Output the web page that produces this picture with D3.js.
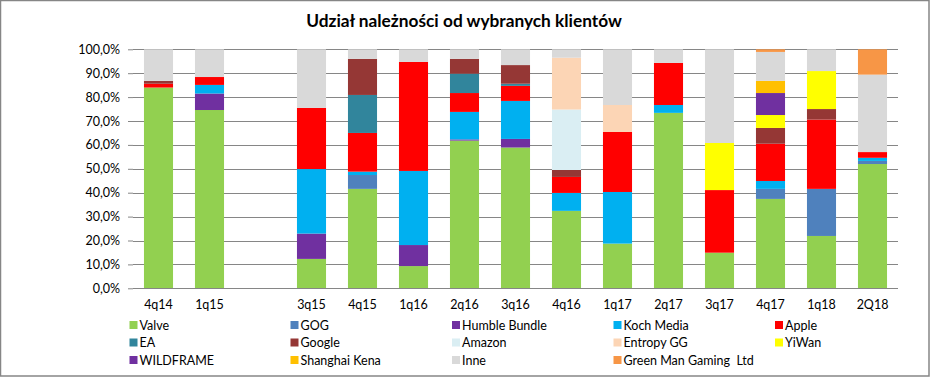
<!DOCTYPE html>
<html><head><meta charset="utf-8">
<script src="https://cdn.jsdelivr.net/npm/d3@7"></script>
<style>
html,body{margin:0;padding:0;background:#fff;}
svg{display:block;font-family:Lato,"Open Sans",sans-serif;}
text{white-space:pre;}
</style></head>
<body>
<svg id="c" width="930" height="377"></svg>
<script>
const categories = ["4q14","1q15","","3q15","4q15","1q16","2q16","3q16","4q16","1q17","2q17","3q17","4q17","1q18","2Q18"];
const seriesNames = ["Valve","GOG","Humble Bundle","Koch Media","Apple","EA","Google","Amazon","Entropy GG","YiWan","WILDFRAME","Shanghai Kena","Inne","Green Man Gaming  Ltd"];
const seriesColors = ["#92D050","#4F81BD","#7030A0","#00B0F0","#FF0000","#31859C","#953735","#DAEEF3","#FCD5B5","#FFFF00","#7030A0","#FFC000","#D9D9D9","#F79646"];
// values in % per category (same order as categories)
const valve      = [84.0,74.6,0,12.3,41.6, 9.3,61.8,58.9,32.4,18.7,73.4,14.9,37.4,21.9,52.0];
const gog        = [ 0,   0,  0, 0,   5.8, 0,   0,   0,   0,   0,   0,   0,   4.2,19.7, 1.3];
const humble     = [ 0,   6.9,0,10.6, 0,   8.8, 0.5, 3.6, 0,   0,   0,   0,   0,   0,   0  ];
const koch       = [ 0,   3.6,0,27.0, 1.4,31.0,11.5,15.9, 7.5,21.6, 3.3, 0,   3.3, 0,   1.3];
const apple      = [ 1.6, 3.3,0,25.6,16.2,45.6, 7.9, 6.3, 6.7,25.1,17.6,26.2,15.6,29.0, 2.4];
const ea         = [ 0,   0,  0, 0,  15.9, 0,   8.1, 0.9, 0,   0,   0,   0,   0,   0,   0  ];
const google     = [ 1.2, 0,  0, 0,  15.1, 0,   6.2, 7.8, 2.9, 0,   0,   0,   6.6, 4.4, 0  ];
const amazon     = [ 0,   0,  0, 0,   0,   0,   0,   0,  25.3, 0,   0,   0,   0,   0,   0  ];
const entropy    = [ 0,   0,  0, 0,   0,   0,   0,   0,  21.7,11.3, 0,   0,   0,   0,   0  ];
const yiwan      = [ 0,   0,  0, 0,   0,   0,   0,   0,   0,   0,   0,  19.7, 5.4,15.9, 0  ];
const wildframe  = [ 0,   0,  0, 0,   0,   0,   0,   0,   0,   0,   0,   0,   9.2, 0,   0  ];
const shanghai   = [ 0,   0,  0, 0,   0,   0,   0,   0,   0,   0,   0,   0,   5.1, 0,   0  ];
const inne       = [13.2,11.6,0,24.5, 4.0, 5.3, 4.0, 6.6, 3.5,23.3, 5.7,39.2,12.1, 9.1,32.4];
const greenman   = [ 0,   0,  0, 0,   0,   0,   0,   0,   0,   0,   0,   0,   1.1, 0,  10.6];
const seriesValues = [valve,gog,humble,koch,apple,ea,google,amazon,entropy,yiwan,wildframe,shanghai,inne,greenman];
const yTicks = [0,10,20,30,40,50,60,70,80,90,100];

const rows = categories.map((c,i)=>{const r={cat:c,idx:i};seriesNames.forEach((s,j)=>r[s]=seriesValues[j][i]);return r;});
const stack = d3.stack().keys(seriesNames)(rows);

const svg = d3.select("#c");
const m = {left:133, right:898, top:49.3, bottom:288.3};
const x = d3.scaleBand().domain(d3.range(categories.length)).range([m.left,m.right]).paddingInner(0.43).paddingOuter(0.215);
const y = d3.scaleLinear().domain([0,100]).range([m.bottom,m.top]);

// outer border
svg.append("rect").attr("x",0.5).attr("y",0.5).attr("width",928.5).attr("height",375.5).attr("fill","none").attr("stroke","#868686").attr("stroke-width",1.5);

// title
svg.append("text").attr("x",464).attr("y",27).attr("text-anchor","middle").attr("font-size",17.3).attr("font-weight","bold").attr("fill","#000").text("Udział należności od wybranych klientów");

// gridlines
svg.append("g").selectAll("line").data(yTicks.filter(t=>t>0)).join("line")
  .attr("x1",m.left).attr("x2",m.right).attr("y1",d=>Math.round(y(d))+0.5).attr("y2",d=>Math.round(y(d))+0.5)
  .attr("stroke","#868686").attr("stroke-width",1);

// y axis
const yAxis = d3.axisLeft(y).tickValues(yTicks).tickSize(5).tickPadding(8).tickFormat(d=>d3.format(".1f")(d).replace(".",",")+"%");
const gy = svg.append("g").attr("transform",`translate(${m.left},0)`).call(yAxis);
gy.select(".domain").remove();
gy.selectAll(".tick line").attr("stroke","#868686");
gy.selectAll(".tick text").attr("font-size",12.5).attr("fill","#000").attr("font-family","Lato,'Open Sans',sans-serif");

// bars
svg.append("g").selectAll("g").data(stack).join("g").attr("fill",(d,i)=>seriesColors[i])
  .selectAll("rect").data(d=>d.filter(p=>p[1]-p[0]>0)).join("rect")
  .attr("x",d=>x(d.data.idx)).attr("width",x.bandwidth())
  .attr("y",d=>y(d[1])).attr("height",d=>y(d[0])-y(d[1]));

// x axis
const xAxis = d3.axisBottom(x).tickSize(0).tickPadding(12).tickFormat(i=>categories[i]);
const gx = svg.append("g").attr("transform",`translate(0,${Math.round(m.bottom)+0.5})`).call(xAxis);
gx.select(".domain").attr("stroke","#868686").attr("d",`M${m.left},0H${m.right}`);
gx.selectAll(".tick text").attr("font-size",12.5).attr("fill","#000").attr("font-family","Lato,'Open Sans',sans-serif");

// legend
const legX = [129.5,290.5,452,613.5,775];
const legY = [325,342.5,360];
const lg = svg.append("g").selectAll("g").data(seriesNames).join("g")
  .attr("transform",(d,i)=>`translate(${legX[i%5]},${legY[Math.floor(i/5)]})`);
lg.append("rect").attr("x",0).attr("y",-4).attr("width",8).attr("height",8).attr("fill",(d,i)=>seriesColors[i]);
lg.append("text").attr("x",10).attr("y",4.5).attr("font-size",12.5).attr("fill","#000").text(d=>d);
</script>
</body></html>
